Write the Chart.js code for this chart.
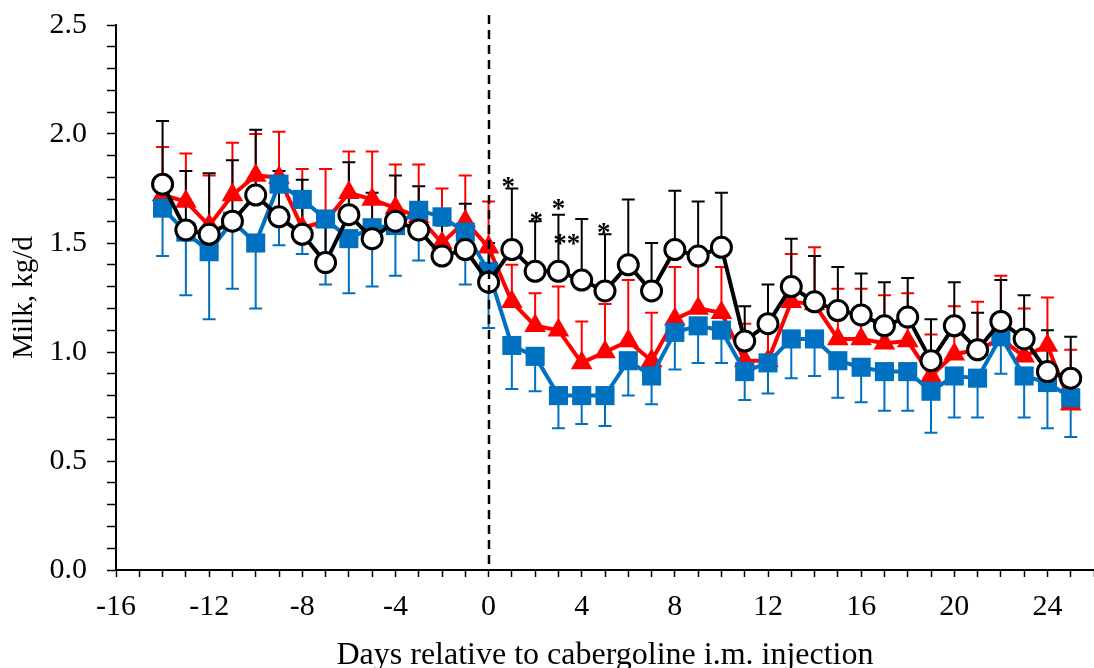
<!DOCTYPE html>
<html>
<head>
<meta charset="utf-8">
<script src="https://cdn.jsdelivr.net/npm/chart.js@4.4.1/dist/chart.umd.min.js"></script>
<style>
html,body{margin:0;padding:0;background:#fff;}
#wrap{width:1094px;height:668px;}
</style>
</head>
<body>
<div id="wrap"><canvas id="c" width="1094" height="668"></canvas></div>
<script>
// ---- data ----
const days = [-14,-13,-12,-11,-10,-9,-8,-7,-6,-5,-4,-3,-2,-1,0,1,2,3,4,5,6,7,8,9,10,11,12,13,14,15,16,17,18,19,20,21,22,23,24,25];

const circleMean = [1.77,1.56,1.54,1.60,1.72,1.62,1.54,1.41,1.63,1.52,1.60,1.56,1.44,1.47,
  1.32,1.47,1.37,1.37,1.33,1.28,1.40,1.28,1.47,1.44,1.48,1.05,1.13,1.30,1.23,1.19,1.17,1.12,1.16,0.96,1.12,1.01,1.14,1.06,0.91,0.88];
const circleSE = [0.29,0.27,0.28,0.28,0.30,0.21,0.25,0.20,0.24,0.21,0.21,0.20,0.14,0.21,
  0.18,0.28,0.23,0.26,0.28,0.26,0.30,0.22,0.27,0.25,0.25,0.16,0.18,0.22,0.21,0.20,0.19,0.20,0.18,0.19,0.20,0.17,0.19,0.20,0.19,0.19];

const triangleMean = [1.72,1.69,1.58,1.72,1.81,1.80,1.57,1.60,1.73,1.70,1.66,1.62,1.50,1.60,
  1.48,1.23,1.12,1.10,0.95,1.00,1.05,0.96,1.15,1.20,1.18,0.96,0.96,1.23,1.22,1.06,1.06,1.04,1.05,0.89,0.99,1.01,1.06,0.98,1.03,0.76];
const triangleSE = [0.22,0.22,0.23,0.24,0.19,0.21,0.27,0.24,0.19,0.22,0.20,0.24,0.25,0.21,
  0.21,0.17,0.15,0.20,0.19,0.22,0.28,0.22,0.24,0.20,0.21,0.17,0.14,0.22,0.26,0.23,0.23,0.22,0.22,0.19,0.22,0.22,0.29,0.22,0.22,0.25];

const squareMean = [1.66,1.55,1.46,1.60,1.50,1.77,1.70,1.61,1.52,1.57,1.58,1.65,1.62,1.55,
  1.37,1.03,0.98,0.80,0.80,0.80,0.96,0.89,1.09,1.12,1.10,0.91,0.95,1.06,1.06,0.96,0.93,0.91,0.91,0.82,0.89,0.88,1.07,0.89,0.86,0.79];
const squareSE = [0.22,0.29,0.31,0.31,0.30,0.28,0.25,0.30,0.25,0.27,0.23,0.23,0.17,0.24,
  0.26,0.20,0.16,0.15,0.13,0.14,0.16,0.13,0.17,0.17,0.15,0.13,0.14,0.18,0.17,0.17,0.16,0.18,0.18,0.19,0.19,0.18,0.17,0.19,0.21,0.18];

// significance marks (day, value, text)
const sigDays = [0.85, 2.05, 3.0, 4.95, 3.36];
const sigValues = [1.78, 1.62, 1.68, 1.57, 1.52];
const sigLabels = ['*', '*', '*', '*', '**'];

const xTickLabelsEvery = 4;
const yTickLabelsEvery = 0.5;
const injectionDay = 0;

const xTitle = 'Days relative to cabergoline i.m. injection';
const yTitle = 'Milk, kg/d';

// ---- chart ----
const FONT = "'Liberation Serif','Times New Roman',serif";
const toPts = (arr) => arr.map((v, i) => ({x: days[i], y: v}));

const errorBars = {
  id: 'errorBars',
  beforeDatasetsDraw(chart) {
    const {ctx, scales: {x, y}} = chart;
    const groups = [
      {mean: triangleMean, se: triangleSE, dir: 1, color: '#FF0000'},
      {mean: squareMean, se: squareSE, dir: -1, color: '#0070C0'},
      {mean: circleMean, se: circleSE, dir: 1, color: '#000000'}
    ];
    ctx.save();
    ctx.lineWidth = 2;
    groups.forEach(g => {
      ctx.strokeStyle = g.color;
      g.mean.forEach((m, i) => {
        const px = x.getPixelForValue(days[i]);
        const p0 = y.getPixelForValue(m);
        const p1 = y.getPixelForValue(m + g.dir * g.se[i]);
        ctx.beginPath();
        ctx.moveTo(px, p0); ctx.lineTo(px, p1);
        ctx.moveTo(px - 6.5, p1); ctx.lineTo(px + 6.5, p1);
        ctx.stroke();
      });
    });
    ctx.restore();
  },
  afterDatasetsDraw(chart) {
    const {ctx, chartArea, scales: {x, y}} = chart;
    ctx.save();
    const px = Math.round(x.getPixelForValue(injectionDay));
    ctx.strokeStyle = '#000';
    ctx.lineWidth = 2.5;
    ctx.setLineDash([9, 6]);
    ctx.beginPath();
    ctx.moveTo(px, chartArea.top - 10);
    ctx.lineTo(px, chartArea.bottom);
    ctx.stroke();
    ctx.setLineDash([]);
    ctx.fillStyle = '#000';
    ctx.font = "bold 27px " + FONT;
    ctx.textAlign = 'center';
    ctx.textBaseline = 'middle';
    sigDays.forEach((d, i) => {
      ctx.fillText(sigLabels[i], x.getPixelForValue(d), y.getPixelForValue(sigValues[i]) + 6);
    });
    ctx.restore();
  }
};

new Chart(document.getElementById('c'), {
  type: 'line',
  data: {
    datasets: [
      {
        label: 'circle', data: toPts(circleMean),
        borderColor: '#000', borderWidth: 4,
        pointStyle: 'circle', pointRadius: 10, pointBorderWidth: 3,
        pointBackgroundColor: '#fff', pointBorderColor: '#000'
      },
      {
        label: 'square', data: toPts(squareMean),
        borderColor: '#0070C0', borderWidth: 4,
        pointStyle: 'rect', pointRadius: 13.5, pointBorderWidth: 0,
        pointBackgroundColor: '#0070C0', pointBorderColor: '#0070C0'
      },
      {
        label: 'triangle', data: toPts(triangleMean),
        borderColor: '#FF0000', borderWidth: 4,
        pointStyle: 'triangle', pointRadius: 12.5, pointBorderWidth: 0,
        pointBackgroundColor: '#FF0000', pointBorderColor: '#FF0000'
      }
    ]
  },
  options: {
    responsive: false,
    animation: false,
    devicePixelRatio: 1,
    layout: {autoPadding: false, padding: {left: 0, right: 0, top: 25, bottom: 0}},
    plugins: {legend: {display: false}, tooltip: {enabled: false}},
    elements: {line: {tension: 0}},
    scales: {
      x: {
        type: 'linear', min: -16, max: 26,
        afterFit(s) { s.height = 98; s.paddingLeft = 0; s.paddingRight = 0; },
        border: {display: true, color: '#000', width: 2},
        grid: {display: true, drawOnChartArea: false, drawTicks: true, tickLength: 7, tickColor: '#000', tickWidth: 1.5},
        ticks: {
          stepSize: 1, autoSkip: false, maxRotation: 0, color: '#000', padding: 12,
          font: {family: FONT, size: 30},
          callback: (v) => (Math.round(v) % xTickLabelsEvery === 0 && Math.round(v) <= 24) ? String(Math.round(v)) : ''
        },
        title: {display: true, text: xTitle, color: '#000', font: {family: FONT, size: 32, lineHeight: 0.75}, padding: {top: 0, bottom: 0}}
      },
      y: {
        type: 'linear', min: 0, max: 2.5,
        afterFit(s) { s.width = 116; s.paddingTop = 0; s.paddingBottom = 0; },
        border: {display: true, color: '#000', width: 2},
        grid: {display: true, drawOnChartArea: false, drawTicks: true, tickLength: 9, tickColor: '#000', tickWidth: 1.5},
        ticks: {
          stepSize: 0.1, autoSkip: false, color: '#000', padding: 20,
          font: {family: FONT, size: 30},
          callback: (v) => (Math.round(v * 10) % Math.round(yTickLabelsEvery * 10) === 0) ? v.toFixed(1) : ''
        },
        title: {display: true, text: yTitle, color: '#000', font: {family: FONT, size: 29, lineHeight: 1}, padding: {top: 10, bottom: 0}}
      }
    }
  },
  plugins: [errorBars]
});
</script>
</body>
</html>
